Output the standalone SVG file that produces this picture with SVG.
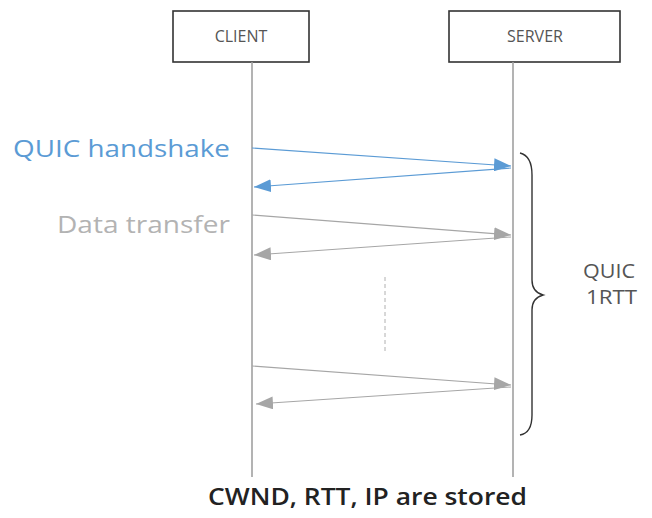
<svg xmlns="http://www.w3.org/2000/svg" width="652" height="518" viewBox="0 0 652 518">
<defs>
<style>
.box{fill:#fff;stroke:#333;stroke-width:1.6}
.life{stroke:#a0a0a0;stroke-width:1.6;fill:none}
.lbl{font-family:"Open Sans","Liberation Sans",sans-serif;font-size:16px;fill:#555;text-anchor:middle}
.blue{stroke:#5b9bd5;stroke-width:1.1;fill:none}
.gray{stroke:#a6a6a6;stroke-width:1.1;fill:none}
.t{font-family:"Open Sans","Liberation Sans",sans-serif}
</style>
<marker id="ab" viewBox="0 0 17 13" refX="17" refY="6.5" markerWidth="17" markerHeight="13" markerUnits="userSpaceOnUse" orient="auto">
<path d="M0,0 L17,6.5 L0,13 Z" fill="#5b9bd5"/>
</marker>
<marker id="ag" viewBox="0 0 17 13" refX="17" refY="6.5" markerWidth="17" markerHeight="13" markerUnits="userSpaceOnUse" orient="auto">
<path d="M0,0 L17,6.5 L0,13 Z" fill="#a6a6a6"/>
</marker>
</defs>
<rect width="652" height="518" fill="#fff"/>
<g id="client">
<rect class="box" x="173" y="11" width="136" height="51"/>
<text class="lbl" x="241" y="42">CLIENT</text>
<line class="life" x1="252" y1="62" x2="252" y2="477"/>
</g>
<g id="server">
<rect class="box" x="449" y="11" width="171" height="51"/>
<text class="lbl" x="535" y="42">SERVER</text>
<line class="life" x1="513" y1="62" x2="513" y2="477"/>
</g>
<g id="connectors">
<line class="blue" x1="252" y1="148" x2="511" y2="166" marker-end="url(#ab)"/>
<line class="blue" x1="511" y1="168" x2="254" y2="187" marker-end="url(#ab)"/>
<line class="gray" x1="252" y1="215" x2="511" y2="235" marker-end="url(#ag)"/>
<line class="gray" x1="511" y1="237" x2="254" y2="255" marker-end="url(#ag)"/>
<line class="gray" x1="252" y1="366" x2="511" y2="385" marker-end="url(#ag)"/>
<line class="gray" x1="511" y1="387" x2="256" y2="404" marker-end="url(#ag)"/>
<line x1="385" y1="277" x2="385" y2="352" stroke="#b0b0b0" stroke-width="1" stroke-dasharray="4,3"/>
</g>
<g id="brace">
<path d="M520,153 Q532,156 532,175 L532,280 Q532,292 543,295 Q532,298 532,310 L532,415 Q532,433 520,435" fill="none" stroke="#333" stroke-width="1.4"/>
</g>
<g id="labels">
<text class="t" x="13" y="157" font-size="24" fill="#5b9bd5" textLength="217" lengthAdjust="spacingAndGlyphs">QUIC handshake</text>
<text class="t" x="57" y="233" font-size="24" fill="#b3b3b3" textLength="173" lengthAdjust="spacingAndGlyphs">Data transfer</text>
<text class="t" x="583" y="278" font-size="20" fill="#555" textLength="52" lengthAdjust="spacingAndGlyphs">QUIC</text>
<text class="t" x="586" y="304" font-size="20" fill="#555" textLength="51" lengthAdjust="spacingAndGlyphs">1RTT</text>
<text class="t" x="208" y="505" font-size="24" font-weight="600" fill="#222" textLength="319" lengthAdjust="spacingAndGlyphs">CWND, RTT, IP are stored</text>
</g>
</svg>
